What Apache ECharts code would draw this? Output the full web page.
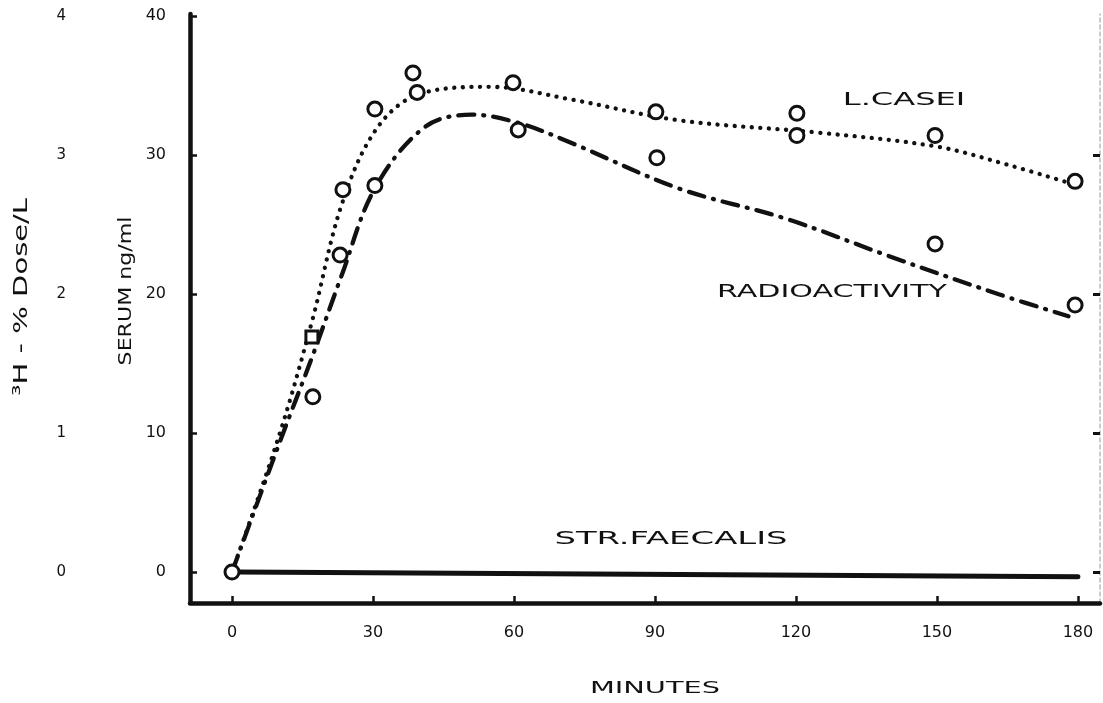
<!DOCTYPE html>
<html>
<head>
<meta charset="utf-8">
<title>Serum levels after oral dose</title>
<script src="https://cdn.jsdelivr.net/npm/echarts@6/dist/echarts.min.js"></script>
<style>
  html, body { margin: 0; padding: 0; background: #fff; }
  #chart { width: 1103px; height: 703px; }
</style>
</head>
<body>
<div id="chart"></div>
<script>
// Time axis ticks (minutes) and the two left scales
const minuteTicks = [0, 30, 60, 90, 120, 150, 180];
const serumTicks = [0, 10, 20, 30, 40];
const doseTicks = [0, 1, 2, 3, 4];
const rightTicks = [0, 10, 20, 30];

// Hand-drawn fitted curves, [minutes, ng/ml]
const lcaseiCurve = [
  [0, 0], [10, 9.8], [17, 18.0], [23.5, 26.6], [31, 32.0], [40, 34.4], [55, 34.9],
  [72, 34.0], [95, 32.5], [125, 31.6], [150, 30.6], [165, 29.3], [179, 27.9]
];
const radioCurve = [
  [0, 0], [10, 9.2], [17.2, 15.6], [23.4, 21.4], [30.4, 27.6], [41, 32.0], [51, 32.9],
  [61, 32.3], [72, 30.9], [95, 27.6], [118, 25.4], [140, 22.7], [163, 20.0], [178, 18.4]
];
const faecalisLine = [[1, 0], [180, -0.35]];

// Measured points
const lcaseiPoints = [
  [23.6, 27.5], [30.4, 33.3], [38.5, 35.9], [39.4, 34.5], [59.8, 35.2],
  [90.2, 33.1], [120.2, 33.0], [120.2, 31.4], [149.6, 31.4], [179.4, 28.1]
];
const lcaseiSquare = [[17.0, 16.9]];
const radioPoints = [
  [0, 0], [17.2, 12.6], [23.0, 22.8], [30.4, 27.8], [60.9, 31.8],
  [90.4, 29.8], [149.6, 23.6], [179.4, 19.2]
];

const FONT = '"DejaVu Sans", "Liberation Sans", sans-serif';
const INK = '#111';

const chart = echarts.init(document.getElementById('chart'), null, { renderer: 'canvas' });

const markerStyle = { color: '#fff', borderColor: INK, borderWidth: 3, opacity: 1 };

chart.setOption({
  animation: false,
  backgroundColor: '#fff',
  grid: { left: 190, right: 3, top: 14, bottom: 100, containLabel: false },
  xAxis: {
    type: 'value',
    min: -8.94,
    max: 184.7,
    axisLine: { show: true, onZero: false, lineStyle: { color: INK, width: 4.5 } },
    axisTick: { show: true, inside: true, length: 7, customValues: minuteTicks, lineStyle: { color: INK, width: 2.5 } },
    axisLabel: { customValues: minuteTicks, margin: 22, fontFamily: FONT, fontSize: 16, color: INK },
    splitLine: { show: false }
  },
  yAxis: [
    {
      type: 'value',
      min: -2.23,
      max: 40.14,
      position: 'left',
      axisLine: { show: true, onZero: false, lineStyle: { color: INK, width: 4.5 } },
      axisTick: { show: true, inside: true, length: 7, customValues: serumTicks, lineStyle: { color: INK, width: 2.5 } },
      axisLabel: { customValues: serumTicks, margin: 24, fontFamily: FONT, fontSize: 16, color: INK },
      splitLine: { show: false }
    },
    {
      type: 'value',
      min: -0.223,
      max: 4.014,
      position: 'left',
      offset: 112,
      axisLine: { show: false },
      axisTick: { show: false },
      axisLabel: { customValues: doseTicks, margin: 12, fontFamily: FONT, fontSize: 15, color: INK },
      splitLine: { show: false }
    },
    {
      type: 'value',
      min: -2.23,
      max: 40.14,
      position: 'right',
      axisLine: { show: true, onZero: false, lineStyle: { color: '#bbb', width: 1.5, type: [4, 3] } },
      axisTick: { show: true, inside: true, length: 7, customValues: rightTicks, lineStyle: { color: INK, width: 3 } },
      axisLabel: { show: false },
      splitLine: { show: false }
    }
  ],
  series: [
    {
      name: 'STR.FAECALIS',
      type: 'line',
      data: faecalisLine,
      symbol: 'none',
      lineStyle: { color: INK, width: 5, cap: 'round' },
      z: 3
    },
    {
      name: 'L.CASEI',
      type: 'line',
      data: lcaseiCurve,
      smooth: 0.35,
      symbol: 'none',
      lineStyle: { color: INK, width: 4.3, type: [0.1, 8.5], cap: 'round' },
      z: 3
    },
    {
      name: 'RADIOACTIVITY',
      type: 'line',
      data: radioCurve,
      smooth: 0.35,
      symbol: 'none',
      lineStyle: { color: INK, width: 4.3, type: [16, 9, 1, 9], cap: 'round' },
      z: 3
    },
    {
      name: 'L.CASEI points',
      type: 'scatter',
      data: lcaseiPoints,
      symbol: 'circle',
      symbolSize: 14,
      itemStyle: markerStyle,
      emphasis: { disabled: true },
      z: 5
    },
    {
      name: 'L.CASEI square',
      type: 'scatter',
      data: lcaseiSquare,
      symbol: 'rect',
      symbolSize: 12,
      itemStyle: markerStyle,
      emphasis: { disabled: true },
      z: 5
    },
    {
      name: 'RADIOACTIVITY points',
      type: 'scatter',
      data: radioPoints,
      symbol: 'circle',
      symbolSize: 14,
      itemStyle: markerStyle,
      emphasis: { disabled: true },
      z: 5
    }
  ],
  graphic: [
    {
      type: 'text', x: 904, y: 100, scaleX: 1.78, z: 10,
      style: { text: 'L.CASEI', font: '18px ' + FONT, fill: INK, align: 'center', verticalAlign: 'middle' }
    },
    {
      type: 'text', x: 832, y: 292, scaleX: 1.67, z: 10,
      style: { text: 'RADIOACTIVITY', font: '18px ' + FONT, fill: INK, align: 'center', verticalAlign: 'middle' }
    },
    {
      type: 'text', x: 671, y: 539, scaleX: 1.88, z: 10,
      style: { text: 'STR.FAECALIS', font: '18px ' + FONT, fill: INK, align: 'center', verticalAlign: 'middle' }
    },
    {
      type: 'text', x: 655, y: 689, scaleX: 1.8, z: 10,
      style: { text: 'MINUTES', font: '16px ' + FONT, fill: INK, align: 'center', verticalAlign: 'middle' }
    },
    {
      type: 'text', x: 127, y: 291, rotation: Math.PI / 2, scaleX: 1.3, z: 10,
      style: { text: 'SERUM ng/ml', font: '17px ' + FONT, fill: INK, align: 'center', verticalAlign: 'middle' }
    },
    {
      type: 'text', x: 22, y: 297, rotation: Math.PI / 2, scaleX: 1.45, z: 10,
      style: { text: '³H - % Dose/L', font: '20px ' + FONT, fill: INK, align: 'center', verticalAlign: 'middle' }
    }
  ]
});
</script>
</body>
</html>
